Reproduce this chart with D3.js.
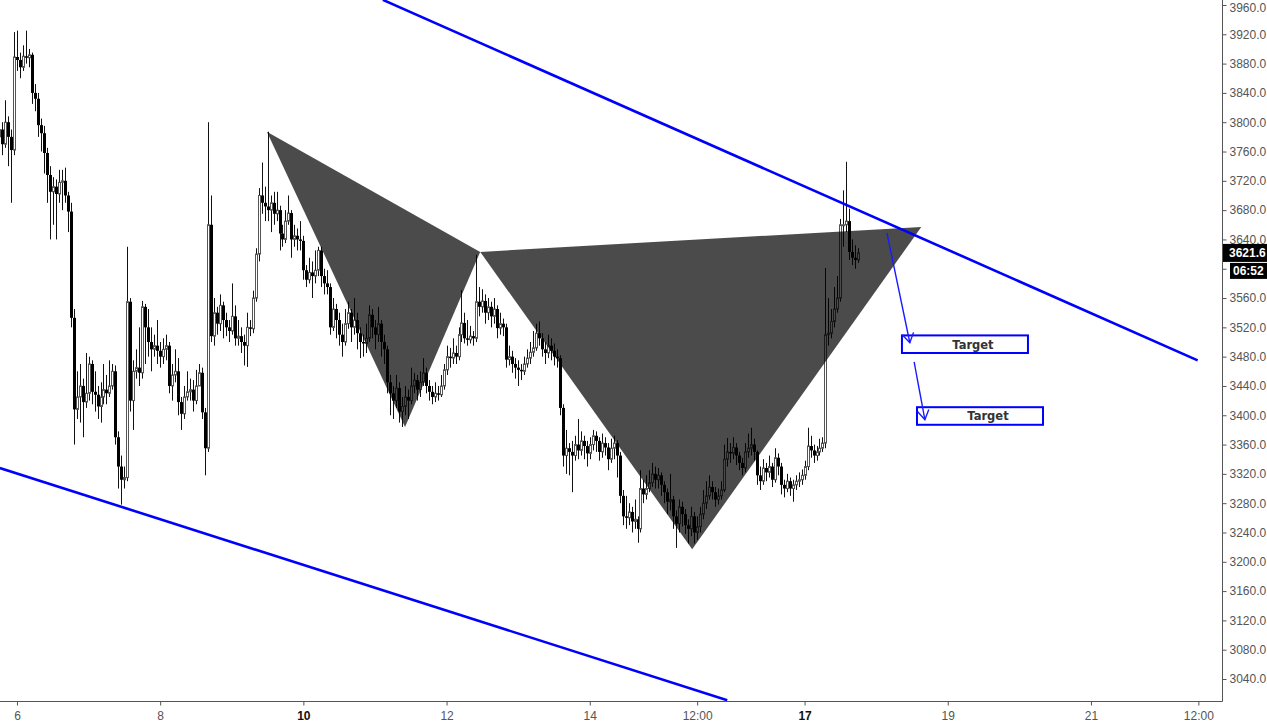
<!DOCTYPE html>
<html>
<head>
<meta charset="utf-8">
<script src="https://cdn.jsdelivr.net/npm/d3@7/dist/d3.min.js"></script>
<style>
  html, body { margin: 0; padding: 0; background: #fff; }
  svg { display: block; }
</style>
</head>
<body>
<svg id="chart" width="1267" height="726"></svg>
<script>
// ---------------- DATA ----------------
// Hourly candles starting Dec 5 18:00 (day 5.75); open of each candle = previous close
const startDay = 5.75;
const firstOpen = 3780;
const closes = [
3790,3770,3800,3780,3762,3889,3885,3875,3890,3888,3892,3840,3832,3796,3785,3758,3728,3705,3712,3702,
3718,3720,3700,3678,3533,3408,3425,3440,3418,3430,3470,3432,3428,3412,3425,3435,3430,3440,3460,3370,
3330,3312,3315,3555,3420,3460,3465,3458,3548,3520,3500,3490,3495,3488,3480,3490,3495,3440,3455,3460,
3418,3402,3425,3432,3435,3420,3440,3458,3404,3355,3660,3508,3540,3525,3550,3530,3520,3515,3535,3505,
3508,3500,3495,3520,3518,3560,3620,3700,3690,3685,3680,3690,3675,3680,3648,3640,3665,3676,3640,3645,
3640,3638,3598,3585,3595,3590,3598,3625,3590,3580,3575,3520,3545,3530,3510,3500,3525,3540,3520,3530,
3512,3500,3498,3505,3537,3520,3510,3525,3500,3490,3445,3430,3420,3437,3405,3412,3425,3420,3440,3448,
3435,3445,3458,3440,3432,3425,3430,3428,3440,3462,3480,3478,3485,3480,3510,3526,3505,3503,3508,3505,
3555,3548,3556,3540,3548,3535,3545,3519,3525,3520,3476,3480,3470,3465,3462,3460,3470,3478,3486,3492,
3512,3505,3490,3485,3495,3488,3480,3478,3410,3345,3355,3350,3345,3360,3352,3365,3358,3348,3360,3372,
3365,3350,3362,3356,3340,3355,3362,3345,3290,3262,3260,3268,3255,3258,3245,3300,3292,3300,3308,3320,
3312,3318,3305,3295,3282,3285,3262,3252,3275,3265,3250,3245,3262,3240,3248,3265,3280,3290,3302,3295,
3285,3290,3298,3340,3350,3348,3356,3345,3335,3328,3350,3355,3360,3350,3318,3310,3328,3322,3330,3312,
3342,3330,3305,3300,3310,3300,3305,3310,3312,3318,3330,3358,3352,3345,3350,3355,3362,3510,3512,3528,
3545,3560,3660,3660,3665,3623,3615,3612,3621.6
];
const highs = [
3812,3800,3830,3808,3790,3923,3925,3895,3905,3925,3900,3895,3852,3840,3805,3795,3765,3740,3725,3722,
3735,3735,3738,3705,3690,3545,3460,3470,3450,3485,3480,3475,3460,3440,3445,3470,3455,3475,3470,3468,
3378,3345,3330,3630,3560,3475,3490,3520,3556,3552,3545,3520,3510,3530,3500,3505,3510,3500,3470,3490,
3478,3425,3440,3460,3450,3448,3462,3470,3465,3410,3800,3700,3560,3548,3565,3555,3540,3530,3580,3550,
3530,3520,3510,3540,3530,3570,3628,3710,3745,3712,3787,3700,3705,3705,3686,3660,3680,3700,3680,3660,
3655,3665,3645,3605,3615,3610,3625,3630,3630,3600,3598,3580,3560,3552,3540,3525,3545,3555,3545,3560,
3540,3520,3510,3525,3550,3545,3530,3548,3530,3510,3495,3455,3440,3455,3445,3425,3440,3435,3465,3458,
3455,3460,3478,3465,3448,3440,3445,3440,3455,3470,3495,3492,3505,3495,3520,3571,3540,3530,3522,3515,
3619,3575,3572,3565,3560,3555,3560,3550,3540,3532,3525,3495,3488,3478,3475,3470,3480,3490,3500,3515,
3525,3528,3512,3500,3510,3505,3498,3490,3482,3415,3380,3362,3365,3372,3395,3378,3372,3365,3370,3380,
3378,3370,3375,3370,3362,3368,3372,3366,3350,3298,3290,3280,3275,3285,3262,3325,3312,3318,3325,3335,
3330,3328,3322,3310,3300,3320,3290,3270,3285,3282,3272,3258,3275,3268,3262,3275,3298,3310,3318,3310,
3302,3300,3310,3360,3369,3362,3370,3362,3350,3342,3362,3375,3383,3368,3352,3330,3340,3335,3345,3335,
3355,3348,3335,3312,3320,3315,3312,3318,3322,3326,3338,3383,3372,3360,3358,3368,3370,3601,3560,3545,
3575,3590,3668,3707,3746,3682,3640,3632,3628
];
const lows = [
3770,3755,3765,3740,3690,3755,3870,3860,3870,3880,3875,3825,3815,3780,3760,3730,3690,3640,3660,3640,
3690,3680,3690,3650,3520,3360,3395,3390,3370,3410,3420,3415,3405,3395,3390,3415,3415,3425,3435,3360,
3300,3278,3300,3310,3405,3380,3450,3440,3450,3470,3480,3460,3480,3470,3465,3470,3475,3430,3420,3445,
3400,3380,3395,3420,3420,3405,3415,3440,3395,3318,3350,3500,3495,3510,3515,3505,3508,3500,3510,3495,
3495,3485,3468,3466,3508,3512,3555,3610,3675,3665,3665,3650,3660,3665,3625,3630,3635,3660,3615,3630,
3625,3625,3585,3575,3580,3560,3580,3590,3575,3565,3565,3510,3515,3505,3495,3480,3495,3518,3500,3510,
3490,3478,3480,3485,3500,3505,3490,3500,3480,3470,3430,3400,3395,3410,3390,3384,3400,3395,3415,3430,
3420,3425,3440,3430,3420,3415,3418,3420,3425,3435,3455,3465,3470,3470,3475,3500,3498,3495,3498,3495,
3500,3535,3540,3525,3530,3520,3525,3505,3510,3508,3465,3468,3458,3450,3440,3448,3455,3465,3470,3480,
3488,3495,3480,3470,3478,3475,3468,3465,3400,3330,3320,3318,3295,3338,3340,3345,3340,3330,3340,3352,
3350,3338,3342,3345,3325,3335,3340,3315,3280,3250,3245,3250,3240,3245,3226,3240,3280,3285,3295,3302,
3300,3300,3290,3280,3265,3270,3245,3219,3240,3248,3238,3225,3235,3225,3230,3240,3258,3272,3285,3285,
3275,3278,3285,3295,3330,3335,3340,3332,3325,3318,3322,3342,3345,3338,3305,3298,3305,3310,3315,3302,
3308,3318,3292,3288,3295,3290,3282,3298,3302,3305,3312,3325,3342,3335,3338,3345,3350,3355,3495,3505,
3520,3540,3555,3630,3650,3612,3605,3600,3608
];

// Harmonic pattern points [day, price]: X, A, B, C, D
const patternX = [9.49, 3787];
const patternA = [11.42, 3384];
const patternB = [12.47, 3623];
const patternC = [15.43, 3217];
const patternD = [18.63, 3657];

// Channel lines [day, price]
const upperLine = [[11.11, 3967], [22.49, 3475]];
const lowerLine = [[5.76, 3328], [15.92, 3011]];

// Projection arrows [day, price]
const arrows = [
  [[18.15, 3649], [18.47, 3499]],
  [[18.53, 3473], [18.68, 3394]]
];
// Target boxes: [leftDay, rightDay, topPrice, bottomPrice]
const targets = [
  {label: "Target", box: [18.36, 20.12, 3509, 3485]},
  {label: "Target", box: [18.57, 20.33, 3411, 3387]}
];

const yTicks = [3040,3080,3120,3160,3200,3240,3280,3320,3360,3400,3440,3480,3520,3560,3600,3640,3680,3720,3760,3800,3840,3880,3920,3960];
const hiddenYTicks = [3600]; // covered by the price / countdown labels
const xTicks = [6, 8, 10, 12, 14, 15.5, 17, 19, 21, 22.5];
const xTickLabels = ["6", "8", "10", "12", "14", "12:00", "17", "19", "21", "12:00"];
const boldTicks = ["10", "17"];
const lastPrice = 3621.6;
const countdown = "06:52";

// ---------------- CHART ----------------
const W = 1267, H = 726;
const plotRight = 1222, plotBottom = 701;
const svg = d3.select("#chart");

const x = d3.scaleLinear().domain([5.763, 22.83]).range([0, plotRight]);
const y = d3.scaleLinear().domain([3960, 3040]).range([5, 679]);

svg.append("defs").append("clipPath").attr("id", "plotclip")
  .append("rect").attr("x", 0).attr("y", 0).attr("width", plotRight).attr("height", plotBottom);

const plot = svg.append("g").attr("clip-path", "url(#plotclip)");

// candles
const candles = closes.map((c, i) => ({
  t: startDay + i / 24,
  o: i === 0 ? firstOpen : closes[i - 1],
  c: c, h: highs[i], l: lows[i]
}));

const cg = plot.append("g");
candles.forEach(d => {
  const cx = Math.round(x(d.t)) + 0.5;
  cg.append("line")
    .attr("x1", cx).attr("x2", cx)
    .attr("y1", y(d.h)).attr("y2", y(d.l))
    .attr("stroke", "#111").attr("stroke-width", 1);
  const up = d.c >= d.o;
  const top = y(Math.max(d.o, d.c)), bot = y(Math.min(d.o, d.c));
  const hgt = Math.max(1, bot - top);
  if (up) {
    cg.append("rect")
      .attr("x", cx - 1).attr("y", top)
      .attr("width", 2).attr("height", hgt)
      .attr("fill", "#fff").attr("stroke", "#555").attr("stroke-width", 1);
  } else {
    cg.append("rect")
      .attr("x", cx - 1.5).attr("y", top)
      .attr("width", 3).attr("height", hgt)
      .attr("fill", "#000");
  }
});

// harmonic pattern triangles
const tri = (pts) => pts.map(p => [x(p[0]), y(p[1])]);
const lineGen = d3.line();
plot.append("path")
  .attr("d", lineGen(tri([patternX, patternA, patternB])) + "Z")
  .attr("fill", "#000").attr("fill-opacity", 0.705).attr("stroke", "none");
plot.append("path")
  .attr("d", lineGen(tri([patternB, patternC, patternD])) + "Z")
  .attr("fill", "#000").attr("fill-opacity", 0.705).attr("stroke", "none");

// channel lines
[upperLine, lowerLine].forEach(l => {
  plot.append("line")
    .attr("x1", x(l[0][0])).attr("y1", y(l[0][1]))
    .attr("x2", x(l[1][0])).attr("y2", y(l[1][1]))
    .attr("stroke", "#0000ff").attr("stroke-width", 2.6);
});

// target boxes
targets.forEach(t => {
  const [d0, d1, p0, p1] = t.box;
  const bx = x(d0), bw = x(d1) - x(d0), by = y(p0), bh = y(p1) - y(p0);
  plot.append("rect").attr("x", bx).attr("y", by).attr("width", bw).attr("height", bh)
    .attr("fill", "#fff").attr("stroke", "#0000ff").attr("stroke-width", 2);
  plot.append("text")
    .attr("x", bx + bw / 2 + 8).attr("y", by + bh / 2 + 4.5)
    .attr("text-anchor", "middle")
    .attr("font-family", "DejaVu Sans, sans-serif").attr("font-size", 11.5)
    .attr("font-weight", "bold").attr("fill", "#333")
    .text(t.label);
});

// arrows (drawn over the boxes)
arrows.forEach(a => {
  const x1 = x(a[0][0]), y1 = y(a[0][1]), x2 = x(a[1][0]), y2 = y(a[1][1]);
  plot.append("line").attr("x1", x1).attr("y1", y1).attr("x2", x2).attr("y2", y2)
    .attr("stroke", "#1a1aff").attr("stroke-width", 1.4);
  const ang = Math.atan2(y2 - y1, x2 - x1);
  const len = 11, spread = 0.55;
  const p1 = [x2 - len * Math.cos(ang - spread), y2 - len * Math.sin(ang - spread)];
  const p2 = [x2 - len * Math.cos(ang + spread), y2 - len * Math.sin(ang + spread)];
  plot.append("path")
    .attr("d", `M${p1[0]},${p1[1]}L${x2},${y2}L${p2[0]},${p2[1]}`)
    .attr("fill", "none").attr("stroke", "#1a1aff").attr("stroke-width", 1.4);
});

// axes
const axisColor = "#555";
svg.append("line").attr("x1", plotRight + 0.5).attr("x2", plotRight + 0.5)
  .attr("y1", 0).attr("y2", plotBottom + 0.5).attr("stroke", axisColor).attr("stroke-width", 1);
svg.append("line").attr("x1", 0).attr("x2", plotRight + 0.5)
  .attr("y1", plotBottom + 0.5).attr("y2", plotBottom + 0.5).attr("stroke", axisColor).attr("stroke-width", 1);

const yAxis = d3.axisRight(y).tickValues(yTicks)
  .tickFormat(d => hiddenYTicks.includes(d) ? "" : d.toFixed(1)).tickSize(4).tickPadding(3);
const yg = svg.append("g").attr("transform", `translate(${plotRight + 0.5},0)`).call(yAxis);
yg.select(".domain").remove();
yg.selectAll(".tick line").attr("stroke", axisColor);
yg.selectAll(".tick text").attr("fill", "#555")
  .attr("font-family", "Liberation Sans, Arial, sans-serif").attr("font-size", 12)
  .attr("dy", d => y(d) < 10 ? "0.5em" : "0.32em");

const xAxis = d3.axisBottom(x).tickValues(xTicks)
  .tickFormat((d, i) => xTickLabels[i]).tickSize(4).tickPadding(6);
const xg = svg.append("g").attr("transform", `translate(0,${plotBottom + 0.5})`).call(xAxis);
xg.select(".domain").remove();
xg.selectAll(".tick line").attr("stroke", axisColor);
xg.selectAll(".tick text")
  .attr("font-family", "Liberation Sans, Arial, sans-serif").attr("font-size", 12)
  .attr("fill", (d, i) => boldTicks.includes(xTickLabels[i]) ? "#111" : "#555")
  .attr("font-weight", (d, i) => boldTicks.includes(xTickLabels[i]) ? "bold" : "normal");

// last price label and countdown
const py = y(lastPrice);
svg.append("rect").attr("x", plotRight + 1).attr("y", py - 9).attr("width", W - plotRight - 1).attr("height", 18)
  .attr("fill", "#000");
svg.append("text").attr("x", plotRight + 7).attr("y", py + 4.5)
  .attr("font-family", "Liberation Sans, Arial, sans-serif").attr("font-size", 12)
  .attr("font-weight", "bold").attr("fill", "#fff").text(lastPrice.toFixed(1));
svg.append("rect").attr("x", plotRight + 8).attr("y", py + 10).attr("width", 37).attr("height", 16)
  .attr("fill", "#000");
svg.append("text").attr("x", plotRight + 11).attr("y", py + 22.5)
  .attr("font-family", "Liberation Sans, Arial, sans-serif").attr("font-size", 12)
  .attr("font-weight", "bold").attr("fill", "#fff").text(countdown);
</script>
</body>
</html>
